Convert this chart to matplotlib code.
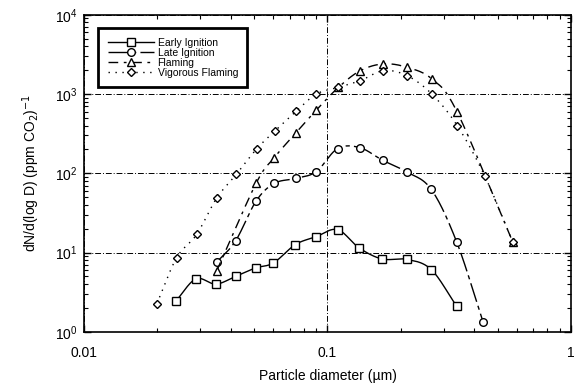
import numpy as np
import matplotlib; matplotlib.use("Agg")
import matplotlib.pyplot as plt

plt.rcParams["font.family"] = ["Liberation Sans", "DejaVu Sans"]

# Size distributions (diameter in um, dN/dlogD per ppm CO2)
early_d = [0.0239, 0.0288, 0.0348, 0.0419, 0.0507, 0.060, 0.0738, 0.0896,
           0.110, 0.1346, 0.1676, 0.212, 0.267, 0.340]
early_n = [2.47, 4.65, 4.0, 5.0, 6.4, 7.4, 12.6, 15.8, 19.5, 11.5, 8.3, 8.2, 6.1, 2.09]

late_d = [0.035, 0.0419, 0.0509, 0.0605, 0.0744, 0.090, 0.110, 0.1357,
          0.1686, 0.2118, 0.267, 0.340, 0.436]
late_n = [7.5, 14.0, 44.6, 74.7, 86.4, 105, 205, 211, 146, 104, 62.7, 13.5, 1.33]

flam_d = [0.035, 0.0509, 0.0605, 0.0744, 0.090, 0.111, 0.1365, 0.1697,
          0.2118, 0.2685, 0.3417, 0.578]
flam_n = [5.8, 74.7, 158, 327, 627, 1216, 1973, 2399, 2178, 1549, 587, 13.5]

vig_d = [0.0199, 0.0240, 0.029, 0.035, 0.0422, 0.0513, 0.0609, 0.0743, 0.090,
         0.111, 0.1365, 0.1697, 0.2125, 0.2685, 0.3418, 0.443, 0.578]
vig_n = [2.26, 8.6, 16.9, 48.3, 97, 205, 343, 604, 1000, 1216, 1473, 1973,
         1706, 1000, 397, 92.5, 13.5]

labels = ["Early Ignition", "Late Ignition", "Flaming", "Vigorous Flaming"]


def smooth(x, y, n=24):
    # Catmull-Rom through the points in log-log space
    lx, ly = np.log10(x), np.log10(y)
    px = np.concatenate([[2 * lx[0] - lx[1]], lx, [2 * lx[-1] - lx[-2]]])
    py = np.concatenate([[2 * ly[0] - ly[1]], ly, [2 * ly[-1] - ly[-2]]])
    t = np.linspace(0, 1, n)[:, None]
    xs, ys = [], []
    for i in range(1, len(px) - 2):
        for p, out in ((px, xs), (py, ys)):
            p0, p1, p2, p3 = p[i - 1], p[i], p[i + 1], p[i + 2]
            seg = 0.5 * (2 * p1 + (-p0 + p2) * t + (2 * p0 - 5 * p1 + 4 * p2 - p3) * t ** 2
                         + (-p0 + 3 * p1 - 3 * p2 + p3) * t ** 3)
            out.append(seg.ravel())
    return 10 ** np.concatenate(xs), 10 ** np.concatenate(ys)


fig = plt.figure(figsize=(5.76, 3.89), dpi=100)
ax = fig.add_axes([0.146, 0.147, 0.845, 0.815])

series = [
    (early_d, early_n, "-", "s", 5.5),
    (late_d, late_n, (0, (14, 3, 3, 3)), "o", 5.5),
    (flam_d, flam_n, (0, (7, 4, 2, 4)), "^", 5.5),
    (vig_d, vig_n, (0, (1, 4)), "D", 4.0),
]
for (d, n, ls, mk, ms), lbl in zip(series, labels):
    sx, sy = smooth(d, n)
    ax.plot(sx, sy, color="black", lw=1.0, ls=ls)
    ax.plot(d, n, ls="none", marker=mk, ms=ms, mfc="white", mec="black", mew=1.0)
    ax.plot([], [], color="black", lw=1.0, ls=ls, marker=mk, ms=ms,
            mfc="white", mec="black", mew=1.0, label=lbl)

ax.set_xscale("log")
ax.set_yscale("log")
ax.set_xlim(0.01, 1)
ax.set_ylim(1, 1e4)
ax.set_xticks([0.01, 0.1, 1])
ax.set_xticklabels(["0.01", "0.1", "1"])
ax.grid(True, which="major", color="black", lw=0.7, ls=(0, (6, 2, 1, 2)))
ax.tick_params(which="both", direction="in", top=True, right=True, labelsize=10)
ax.tick_params(which="major", length=5, width=1)
ax.tick_params(which="minor", length=3, width=0.8)
ax.tick_params(axis="x", which="major", pad=10)
ax.tick_params(axis="y", which="major", pad=5)
for s in ax.spines.values():
    s.set_linewidth(1.2)

ax.set_xlabel("Particle diameter (\u00b5m)", fontsize=10, labelpad=7)
ax.set_ylabel("dN/d(log D) (ppm CO$_2$)$^{-1}$", fontsize=10, labelpad=9)

leg = ax.legend(loc="upper left", bbox_to_anchor=(0.029, 0.957), fontsize=7.5,
                frameon=True, fancybox=False, edgecolor="black", framealpha=1,
                handlelength=4.5, borderpad=0.9, labelspacing=0.0, handletextpad=0.3,
                borderaxespad=0)
leg.get_frame().set_linewidth(2.0)

fig.savefig("out.png", dpi=100)
